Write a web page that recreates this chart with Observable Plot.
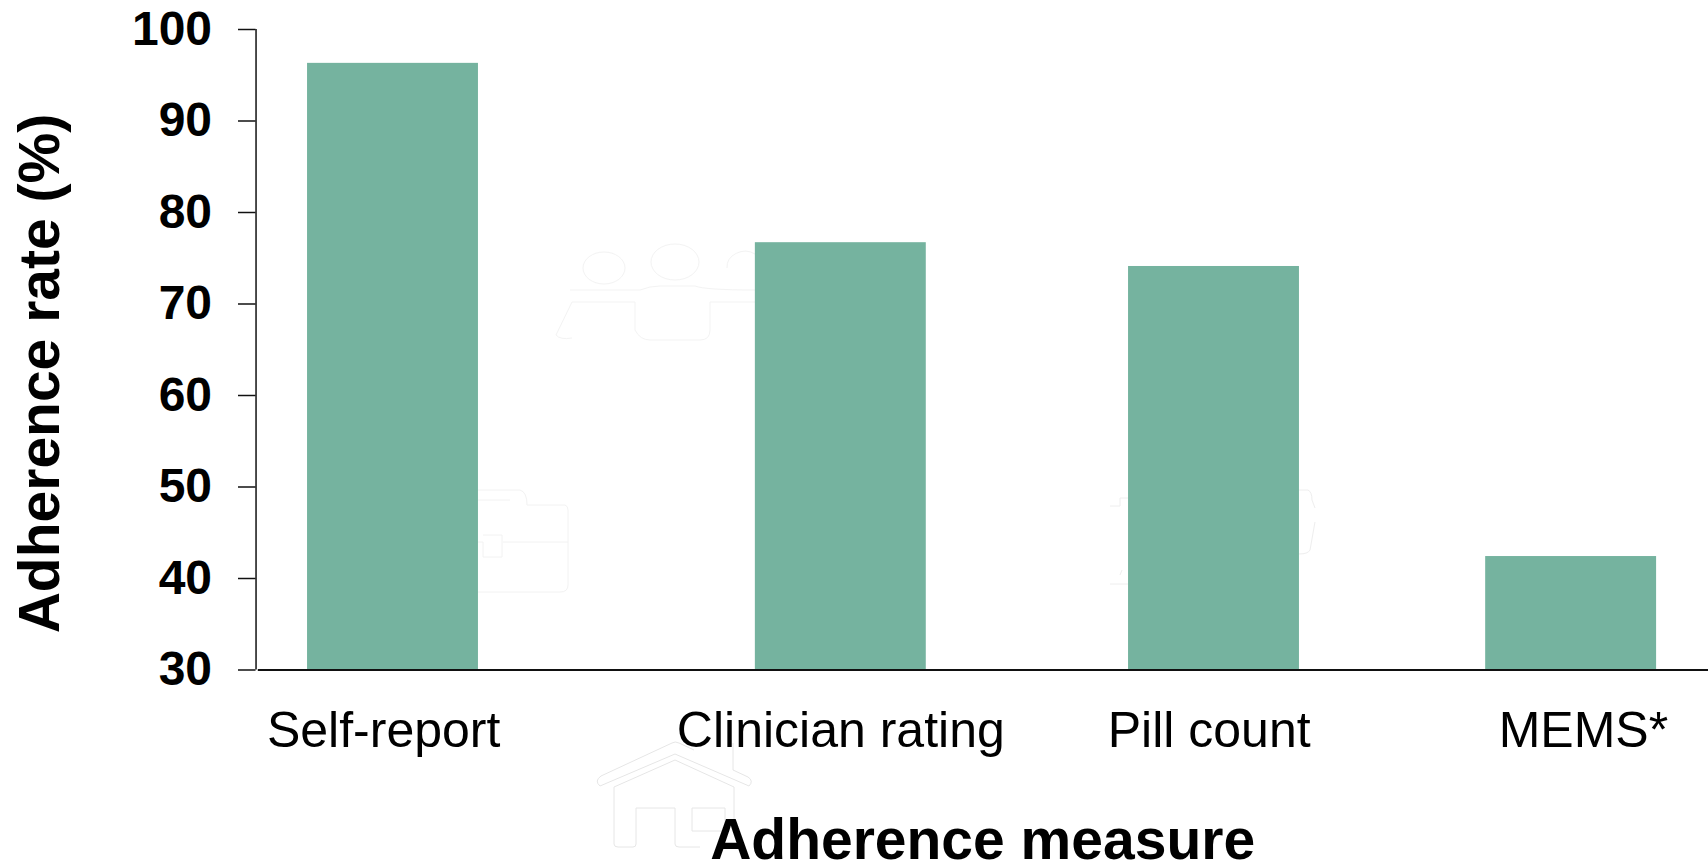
<!DOCTYPE html>
<html><head><meta charset="utf-8">
<script src="https://cdn.jsdelivr.net/npm/d3@7/dist/d3.min.js"></script>
<script src="https://cdn.jsdelivr.net/npm/@observablehq/plot@0.6/dist/plot.umd.min.js"></script>
<style>html,body{margin:0;padding:0;background:#fff;overflow:hidden}svg{display:block}</style>
</head><body><div id="chart"></div>
<script>
const categories = ["Self-report", "Clinician rating", "Pill count", "MEMS*"];
const adherence = [96.3, 76.7, 74.1, 42.4];
const barSlots = [1, 2.2, 3.2, 4.157];
const labelSlots = [0.975, 2.2, 3.187, 4.19];
const yTicks = [30, 40, 50, 60, 70, 80, 90, 100];
const yBase = 30, barHalf = 0.229, axisX = 0.633;
const rows = categories.map((c, i) => ({c, v: adherence[i], s: barSlots[i], l: labelSlots[i]}));
const font = "'Liberation Sans', Arial, sans-serif";

// faint background pictograms of the reference (decoration, not data)
const ghostPaths = [
  ["#e6e6e6", "M600 786Q594 781 601 776L672 743Q675 741 679 743L694 750M733 743V770L748 777Q754 781 749 786L675 754L600 786M614 787L675 760L734 787V830M614 787V844Q614 847 618 847H633Q636 847 636 844V808H675V844Q675 847 679 847H700M692 808H725V831H692Z"],
  ["#f3f3f3", "M583 268a21 16 0 1 0 42 0a21 16 0 1 0 -42 0M651 262a24 18 0 1 0 48 0a24 18 0 1 0 -48 0M727 268a18 16 0 0 1 28 -14M570 290H640Q650 286 660 286H695Q705 290 755 290M572 302H635V330Q640 340 650 340H700Q710 340 710 330V302H755M572 302L556 335Q560 340 572 338"],
  ["#f2f2f2", "M478 490H520Q527 492 527 505H565Q568 506 568 510V585Q568 592 560 592H478M503 542H568M478 542H483V557H502V535H483M478 500H510"],
  ["#eeeeee", "M1110 506H1120V498H1128M1110 584H1128M1120 575L1122 570M1299 490H1308Q1312 492 1312 500L1315 508M1315 522L1310 550Q1308 554 1299 554"]
];
const ghosts = () => {
  const g = d3.create("svg:g").attr("fill", "none").attr("stroke-width", 1);
  for (const [color, d] of ghostPaths) g.append("path").attr("stroke", color).attr("d", d);
  return g.node();
};

const chart = Plot.plot({
  width: 1708, height: 865, margin: 0,
  style: {background: "#fff", fontFamily: font, color: "#000"},
  x: {domain: [1, 3.2], range: [392.5, 1213.5], axis: null},
  y: {domain: [30, 100], range: [669.5, 29], axis: null},
  marks: [
    ghosts,
    Plot.rectY(rows, {x1: d => d.s - barHalf, x2: d => d.s + barHalf, y1: yBase, y2: "v", fill: "#75b39f"}),
    Plot.ruleY([30], {x1: axisX + 0.006, x2: 4.527, stroke: "#111", strokeWidth: 2}),
    Plot.ruleX([axisX], {y1: 30, y2: 100, stroke: "#111", strokeWidth: 1.5}),
    Plot.ruleY(yTicks, {x1: axisX - 0.047, x2: axisX, stroke: "#111", strokeWidth: 1.5}),
    Plot.text(yTicks, {y: d => d, x: axisX, text: d => String(d), textAnchor: "end", dx: -44, fontSize: 48, fontWeight: "bold", fill: "#000"}),
    Plot.text(rows, {x: "l", y: yBase, text: "c", dy: 61, fontSize: 50, fill: "#000"}),
    Plot.text(["Adherence measure"], {x: 2.58, y: yBase, dy: 171, fontSize: 57, fontWeight: "bold", fill: "#000"}),
    Plot.text(["Adherence rate (%)"], {x: axisX, y: 62.4, rotate: -90, dx: -215, fontSize: 57, fontWeight: "bold", fill: "#000"})
  ]
});
document.getElementById("chart").append(chart);
</script></body></html>
